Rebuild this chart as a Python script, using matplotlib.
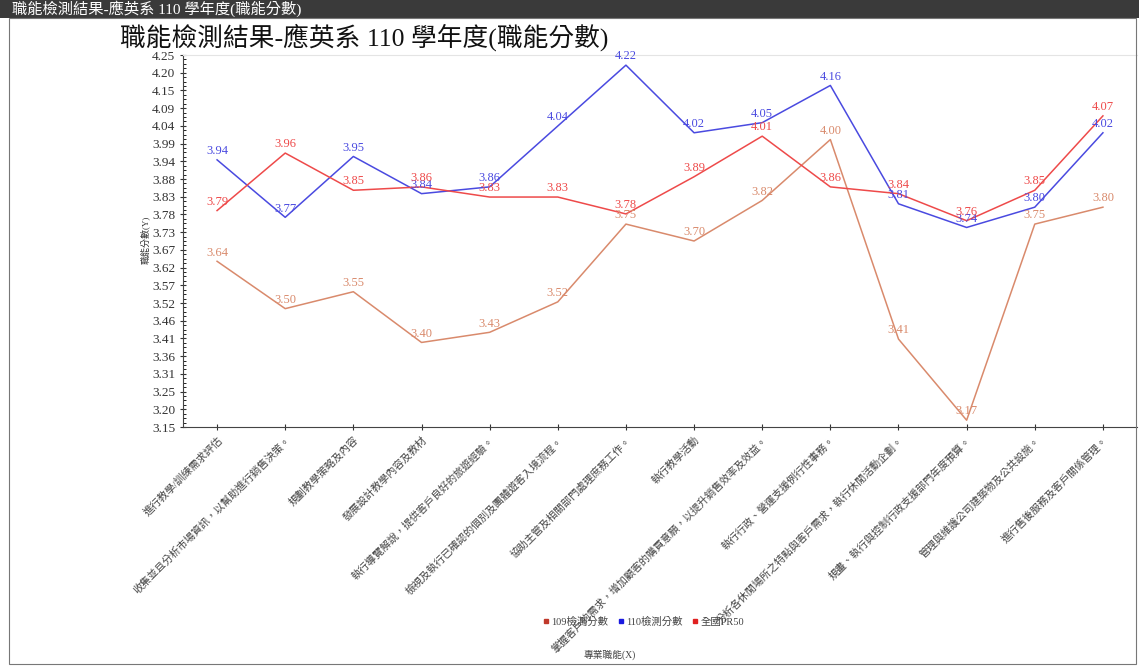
import matplotlib
matplotlib.use("Agg")
import matplotlib.pyplot as plt
import numpy as np
from matplotlib.patches import Rectangle
from matplotlib.lines import Line2D

plt.rcParams['font.family'] = ['Liberation Serif', 'Noto Sans CJK TC', 'DejaVu Sans']

categories = [
    "進行教學/訓練需求評估",
    "收集並且分析市場資訊，以幫助進行銷售決策。",
    "規劃教學策略及內容",
    "發展設計教學內容及教材",
    "執行導覽解說，提供客戶良好的旅遊經驗。",
    "檢視及執行已確認的個別及團體遊客入境流程。",
    "協助主管及相關部門處理庶務工作。",
    "執行教學活動",
    "掌握客戶的需求，增加顧客的購買意願，以提升銷售效率及效益。",
    "執行行政、營運支援例行性事務。",
    "分析各休閒場所之特點與客戶需求，執行休閒活動企劃。",
    "規畫、執行與控制行政支援部門年度預算。",
    "管理與維護公司建築物及公共設施。",
    "進行售後服務及客戶關係管理。",
]
scores_109 = [3.64, 3.50, 3.55, 3.40, 3.43, 3.52, 3.75, 3.70, 3.82, 4.00, 3.41, 3.17, 3.75, 3.80]
scores_110 = [3.94, 3.77, 3.95, 3.84, 3.86, 4.04, 4.22, 4.02, 4.05, 4.16, 3.81, 3.74, 3.80, 4.02]
scores_pr50 = [3.79, 3.96, 3.85, 3.86, 3.83, 3.83, 3.78, 3.89, 4.01, 3.86, 3.84, 3.76, 3.85, 4.07]
series_names = ["109檢測分數", "110檢測分數", "全國PR50"]
y_min, y_max, n_yticks = 3.15, 4.25, 22

title = "職能檢測結果-應英系 110 學年度(職能分數)"
W, H = 1139, 666
fig = plt.figure(figsize=(W / 100, H / 100), dpi=100)

# header bar
fig.patches.append(Rectangle((0, 1 - 18 / H), 1, 18 / H, transform=fig.transFigure,
                             facecolor='#3a3a3a', edgecolor='none', zorder=0))
fig.text(12 / W, 1 - 9 / H, title, color='white', fontsize=11, va='center', ha='left')
# outer frame
fig.patches.append(Rectangle((9 / W, 2 / H), (1136 - 9) / W, (H - 20) / H, transform=fig.transFigure,
                             facecolor='none', edgecolor='#777777', lw=0.8, zorder=0))

fig.text(120 / W, 1 - 37 / H, title, fontsize=18.5, va='center', ha='left', color='#111111')

ax = fig.add_axes([183 / W, 1 - 427 / H, (1137 - 183) / W, (427 - 55) / H])
x = np.arange(len(categories))
colors = ['#d98a6c', '#4a4ae0', '#ee4a4a']
for vals, c in zip([scores_109, scores_110, scores_pr50], colors):
    ax.plot(x, vals, color=c, lw=1.1)
    for xi, v in zip(x, vals):
        ax.annotate(f"{v:.2f}", (xi, v), xytext=(0, 2), textcoords='offset points',
                    ha='center', va='bottom', color=c, fontsize=9)

ax.set_xlim(-0.5, len(categories) - 0.5)
ax.set_ylim(y_min, y_max)
yt = np.linspace(y_min, y_max, n_yticks)
ax.set_yticks(yt)
ax.set_yticklabels([f"{t:.2f}" for t in yt], fontsize=9.5, color='#333333')
ax.set_yticks(np.linspace(y_min, y_max, (n_yticks - 1) * 4 + 1), minor=True)
ax.set_xticks(x)
ax.set_xticklabels(categories, rotation=45, ha='right', rotation_mode='anchor',
                   fontsize=7.5, color='#444444')
ax.tick_params(axis='both', direction='inout', length=4, width=0.8, color='#333333')
ax.tick_params(axis='y', which='minor', direction='in', length=2, width=0.6)
ax.spines['right'].set_visible(False)
ax.spines['top'].set_color('#e4e4e4')
ax.spines['top'].set_linewidth(0.8)
ax.spines['left'].set_color('#444444')
ax.spines['bottom'].set_color('#444444')

fig.text(145 / W, 1 - 240 / H, "職能分數(Y)", rotation=90, fontsize=6.5, va='center', ha='center', color='#333333')
fig.text(610 / W, 1 - 655 / H, "專業職能(X)", fontsize=7, va='center', ha='center', color='#444444')

handles = [Line2D([], [], marker='s', ls='none', color=c, markersize=3.5) for c in ['#c0392b', '#1a1ae0', '#e02020']]
fig.legend(handles, series_names, loc='center', bbox_to_anchor=(643 / W, 1 - 622 / H), ncol=3,
           frameon=False, fontsize=7.5, handletextpad=0.1, columnspacing=0.8, handlelength=0.8,
           labelcolor='#444444')

fig.savefig("out.png", dpi=100)
